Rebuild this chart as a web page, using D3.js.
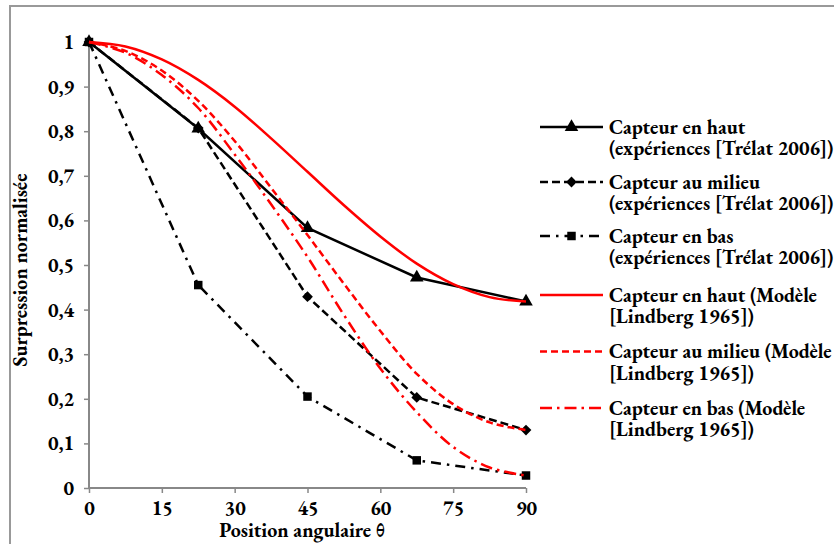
<!DOCTYPE html>
<html>
<head>
<meta charset="utf-8">
<script src="https://cdn.jsdelivr.net/npm/d3@7/dist/d3.min.js"></script>
<style>
  html, body { margin: 0; padding: 0; background: #fff; }
  svg { display: block; }
</style>
</head>
<body>
<svg id="chart" width="834" height="544"></svg>
<script>
// ---- data ----
const expAngles = [0, 22.5, 45, 67.5, 90];
const hautExp   = [1, 0.806, 0.583, 0.472, 0.418];
const milieuExp = [1, 0.807, 0.429, 0.203, 0.130];
const basExp    = [1, 0.455, 0.205, 0.062, 0.028];

const modelAngles = [0, 7.5, 15, 22.5, 30, 37.5, 45, 52.5, 60, 67.5, 75, 82.5, 90];
const hautModel   = [1, 0.990, 0.961, 0.915, 0.855, 0.784, 0.709, 0.634, 0.564, 0.503, 0.457, 0.428, 0.418];
const milieuModel = [1, 0.980, 0.936, 0.868, 0.778, 0.673, 0.567, 0.458, 0.352, 0.256, 0.188, 0.147, 0.130];
const basModel    = [1, 0.976, 0.926, 0.852, 0.748, 0.636, 0.518, 0.388, 0.268, 0.170, 0.092, 0.046, 0.028];

const xTicks = [0, 15, 30, 45, 60, 75, 90];
const yTicks = [0, 0.1, 0.2, 0.3, 0.4, 0.5, 0.6, 0.7, 0.8, 0.9, 1];

const legendLabels = [
  ["Capteur en haut", "(expériences [Trélat 2006])"],
  ["Capteur au milieu", "(expériences [Trélat 2006])"],
  ["Capteur en bas", "(expériences [Trélat 2006])"],
  ["Capteur en haut (Modèle", "[Lindberg 1965])"],
  ["Capteur au milieu (Modèle", "[Lindberg 1965])"],
  ["Capteur en bas (Modèle", "[Lindberg 1965])"]
];

const FONT = "EB Garamond, Liberation Serif, serif";
const styleText = sel => sel.attr("font-family", FONT).attr("font-weight", "bold").attr("fill", "#000");

// ---- setup ----
const svg = d3.select("#chart");
const x = d3.scaleLinear().domain([0, 90]).range([89, 526]);
const y = d3.scaleLinear().domain([0, 1]).range([488, 42]);

// outer frame (extends past right/bottom edges)
svg.append("rect")
  .attr("x", 10).attr("y", 6).attr("width", 900).attr("height", 600)
  .attr("fill", "none").attr("stroke", "#999").attr("stroke-width", 2);

// axes
const axisColor = "#888";
const yAxis = svg.append("g").attr("transform", `translate(${x(0)},0)`)
  .call(d3.axisLeft(y).tickValues(yTicks).tickSize(5).tickPadding(10)
    .tickFormat(d => d === 0 ? "0" : d === 1 ? "1" : d3.format(".1f")(d).replace(".", ",")));
const xAxis = svg.append("g").attr("transform", `translate(0,${y(0)})`)
  .call(d3.axisBottom(x).tickValues(xTicks).tickSize(5).tickPadding(8));
[xAxis, yAxis].forEach(g => {
  g.attr("font-family", null).attr("font-size", null);
  g.select(".domain").attr("stroke", axisColor).attr("stroke-width", 2);
  g.selectAll(".tick line").attr("stroke", axisColor).attr("stroke-width", 1.5);
  g.selectAll(".tick text").call(styleText).attr("font-size", 20);
});
yAxis.select(".domain").attr("d", `M0,${y(1)}V${y(0)}`);
xAxis.select(".domain").attr("d", `M${x(0)},0H${x(90)}`);

// axis titles
svg.append("text").attr("x", 302).attr("y", 537).attr("text-anchor", "middle")
  .call(styleText).attr("font-size", 20).text("Position angulaire θ");
svg.append("text").attr("transform", `translate(27,270) rotate(-90)`).attr("text-anchor", "middle")
  .call(styleText).attr("font-size", 20).text("Surpression normalisée");

// series definitions
const series = [
  { xs: expAngles, ys: hautExp, color: "#000", dash: null, marker: "triangle", smooth: false },
  { xs: expAngles, ys: milieuExp, color: "#000", dash: "8,4", marker: "diamond", smooth: false },
  { xs: expAngles, ys: basExp, color: "#000", dash: "10,6,2.5,6", marker: "square", smooth: false },
  { xs: modelAngles, ys: hautModel, color: "#ff0000", dash: null, marker: null, smooth: true },
  { xs: modelAngles, ys: milieuModel, color: "#ff0000", dash: "7,4", marker: null, smooth: true },
  { xs: modelAngles, ys: basModel, color: "#ff0000", dash: "12,5,2.5,5", marker: null, smooth: true }
];

const symbolFor = m => m === "triangle" ? d3.symbol().type(d3.symbolTriangle).size(80)
  : m === "diamond" ? d3.symbol().type(d3.symbolSquare).size(58)
  : d3.symbol().type(d3.symbolSquare).size(72);

series.forEach(s => {
  const pts = s.xs.map((a, i) => [a, s.ys[i]]);
  const line = d3.line().x(d => x(d[0])).y(d => y(d[1]))
    .curve(s.smooth ? d3.curveCatmullRom.alpha(0.5) : d3.curveLinear);
  svg.append("path").datum(pts).attr("d", line)
    .attr("fill", "none").attr("stroke", s.color).attr("stroke-width", 2.5)
    .attr("stroke-dasharray", s.dash);
  if (s.marker) {
    svg.append("g").selectAll("path").data(pts).join("path")
      .attr("d", symbolFor(s.marker)())
      .attr("transform", d => `translate(${x(d[0])},${y(d[1])})` + (s.marker === "diamond" ? " rotate(45)" : ""))
      .attr("fill", "#000");
  }
});

// legend (each entry = one text element with two lines)
const legTop = [127, 182, 236, 295, 351.5, 408];
series.forEach((s, i) => {
  const g = svg.append("g").attr("transform", `translate(0,${legTop[i]})`);
  g.append("line").attr("x1", 540).attr("x2", 603).attr("y1", 0).attr("y2", 0)
    .attr("stroke", s.color).attr("stroke-width", 2.5).attr("stroke-dasharray", s.dash);
  if (s.marker) {
    g.append("path").attr("d", symbolFor(s.marker)())
      .attr("transform", `translate(571.5,0)` + (s.marker === "diamond" ? " rotate(45)" : ""))
      .attr("fill", "#000");
  }
  const t = g.append("text").call(styleText).attr("font-size", 20);
  t.append("tspan").attr("x", 609).attr("y", 6.5).text(legendLabels[i][0]);
  t.append("tspan").attr("x", 609).attr("y", 28).text(legendLabels[i][1]);
});
</script>
</body>
</html>
